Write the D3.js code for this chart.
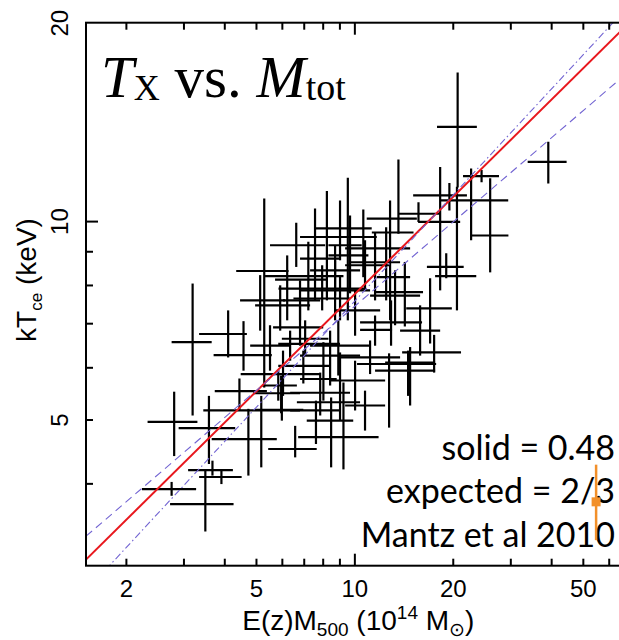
<!DOCTYPE html>
<html><head><meta charset="utf-8">
<script src="https://cdn.jsdelivr.net/npm/d3@7"></script>
<style>body{margin:0;background:#fff} svg{display:block}</style>
</head><body>
<svg id="c" width="619" height="640"></svg>
<script>
// ---- data (10^14 Msun, keV) ----
const mass   = [3.20,2.81,2.76,3.50,3.68,3.92,3.59,4.11,4.58,5.30,4.45,4.74,5.19,5.97,6.00,6.05,
  6.64,7.58,8.24,9.55,9.70,10.65,12.51,12.86,13.64,15.71,18.30,19.53,22.76,26.03,20.6,19.1,20.7,39.2,24.5,
  7.23,7.97,6.23,9.04,5.93,6.82,6.98,8.04,9.04,8.49,9.26,6.59,12.77,11.17,11.57,5.85,7.07,17.05,17.54,
  14.81,14.6,14.27,12.95,8.73,8.43,7.63,8.73,10.05,6.82,5.52,10.78,
  6.36,7.86,10.05,9.04,11.57,15.89,13.32,5.15,8.93,10.78];
const massLo = [2.76,2.33,2.24,2.73,3.10,3.35,2.90,3.35,3.71,4.35,3.74,3.66,3.45,4.90,4.97,4.49,
  5.52,6.82,6.82,8.33,8.33,9.37,11.71,11.31,10.91,13.61,15.67,15.13,18.30,22.9,17.66,16.67,17.9,33.9,21.5,
  5.72,5.86,5.33,6.51,4.97,5.64,5.85,6.82,6.67,7.15,6.73,5.45,10.19,9.04,10.41,5.22,6.00,14.41,14.0,
  11.57,12.42,11.57,10.41,6.82,6.82,6.36,7.32,8.73,6.05,4.80,9.37,
  5.85,6.36,8.43,7.58,9.70,13.80,11.17,4.47,7.32,9.37];
const massHi = [3.66,3.31,3.28,4.27,4.25,4.52,4.32,4.69,5.59,6.29,5.40,5.79,6.82,6.82,6.98,7.86,
  8.14,9.04,11.71,10.53,11.04,14.81,14.81,15.17,15.53,18.30,21.07,22.1,29.56,29.6,23.6,21.6,23.7,44.6,27.7,
  8.24,10.78,9.26,9.70,7.32,8.03,8.43,8.83,10.41,9.92,11.86,7.67,17.79,13.80,13.04,6.67,8.33,19.87,21.2,
  17.66,17.66,16.22,16.11,11.17,10.41,9.04,10.41,11.99,7.86,6.36,12.86,
  9.04,9.70,12.42,11.30,13.80,18.30,15.89,6.14,11.17,12.42];
const temp   = [6.55,4.96,3.92,3.72,4.19,4.09,4.85,6.74,6.26,8.40,5.52,4.67,5.16,5.48,5.17,5.86,
  9.19,8.77,9.46,9.19,8.87,9.09,8.22,9.61,10.09,10.26,9.97,10.94,10.75,9.51,8.25,8.52,13.9,12.3,11.7,
  8.15,7.90,8.25,7.63,7.45,6.90,6.03,5.76,5.31,4.98,4.70,4.51,6.07,6.21,6.84,5.63,6.63,7.37,6.32,
  5.93,6.10,7.80,7.02,7.85,6.25,5.16,8.42,7.32,7.58,6.47,8.57,
  6.51,5.49,5.73,9.75,8.66,6.82,7.71,7.58,6.47,5.25];
const tempLo = [5.07,4.40,3.83,3.38,4.11,3.99,4.28,6.21,5.93,5.59,5.16,4.11,4.23,5.11,4.98,5.43,
  8.52,7.58,7.58,7.07,7.77,8.22,7.58,7.07,9.57,9.97,7.85,10.38,9.35,8.36,7.32,8.19,11.25,11.4,11.45,
  7.32,7.32,7.07,7.07,6.82,6.47,5.67,5.34,4.98,4.23,4.20,4.38,4.86,5.86,6.47,5.34,6.25,6.52,5.89,
  5.25,5.43,6.92,6.47,7.07,5.63,4.59,7.71,6.70,7.07,5.93,7.85,
  6.14,5.07,5.16,8.72,7.58,6.25,6.95,6.82,5.83,4.81];
const tempHi = [8.04,5.51,4.02,4.18,4.33,4.18,5.43,7.32,7.05,10.82,5.77,5.19,5.43,5.83,5.53,6.36,
  9.94,10.45,11.11,11.63,10.20,10.41,9.79,10.75,12.40,10.68,12.08,11.42,12.02,11.61,11.27,8.94,16.8,13.2,11.95,
  9.30,8.57,8.87,8.28,7.99,7.45,6.36,6.55,6.32,5.40,5.69,4.89,6.30,6.59,7.19,5.93,7.07,8.19,6.72,
  6.44,6.36,8.67,7.58,8.72,6.82,5.34,9.19,7.85,8.13,6.95,9.35,
  6.82,5.89,6.14,10.75,9.62,7.45,8.42,8.28,7.07,5.53];

// fit lines: normalisation at M = 10, log-log slope
const lineNames  = ["fit", "upper", "lower"];
const lineNorm   = [7.74, 7.42, 7.55];
const lineSlope  = [0.49, 0.4245, 0.5348];

// Mantz et al 2010 point (orange)
const refMass = [54.9], refTemp = [3.75], refTempLo = [3.28], refTempHi = [4.27];

const xMajorTicks = [2, 5, 10, 20, 50];
const xMinorTicks = [2, 3, 4, 5, 6, 7, 8, 9, 20, 30, 40, 50, 60];
const xDecadeTicks = [10];
const yMajorTicks = [5, 10, 20];
const yMinorTicks = [4, 5, 6, 7, 8, 9];
const yDecadeTicks = [10];
const notes = ["solid = 0.48", "expected = 2/3", "Mantz et al 2010"];

// ---- drawing ----
const svg = d3.select("#c");
const L = 86, R = 630.6, T = 22.7, B = 565.7;
const x = d3.scaleLog().domain([1.51, 70]).range([L, R]);
const y = d3.scaleLog().domain([3, 20]).range([B, T]);

svg.append("defs").append("clipPath").attr("id","clip")
  .append("rect").attr("x",L).attr("y",T).attr("width",R-L).attr("height",B-T);

const plot = svg.append("g").attr("clip-path","url(#clip)");

// crosses
const idx = d3.range(mass.length);
plot.append("g").attr("stroke","#000").attr("stroke-width",2.2)
  .selectAll("g").data(idx).join("g").each(function(i){
    const g = d3.select(this);
    g.append("line").attr("x1",x(massLo[i])).attr("x2",x(massHi[i]))
      .attr("y1",y(temp[i])).attr("y2",y(temp[i]));
    g.append("line").attr("x1",x(mass[i])).attr("x2",x(mass[i]))
      .attr("y1",y(tempLo[i])).attr("y2",y(tempHi[i]));
  });

// lines
const styles = [
  {stroke:"#e8171d", w:2, dash:null},
  {stroke:"#7264d2", w:1.1, dash:"8,5"},
  {stroke:"#7264d2", w:1.1, dash:"7,3,1.5,3"}
];
const line = d3.line().x(d=>x(d[0])).y(d=>y(d[1]));
const xd = x.domain();
lineNames.forEach((n,k)=>{
  const pts = xd.map(m=>[m, lineNorm[k]*Math.pow(m/10, lineSlope[k])]);
  plot.append("path").attr("d", line(pts)).attr("fill","none")
    .attr("stroke", styles[k].stroke).attr("stroke-width", styles[k].w)
    .attr("stroke-dasharray", styles[k].dash);
});

// frame
svg.append("rect").attr("x",L).attr("y",T).attr("width",R-L).attr("height",B-T)
  .attr("fill","none").attr("stroke","#000").attr("stroke-width",2);

function ticks(axisFn, scale, vals, size, transform){
  const g = svg.append("g").attr("transform",transform)
    .call(axisFn(scale).tickValues(vals).tickSize(size).tickFormat(""));
  g.select(".domain").remove();
  g.selectAll("line").attr("stroke","#000").attr("stroke-width",2);
}
ticks(d3.axisBottom, x, xMinorTicks, -7, `translate(0,${B})`);
ticks(d3.axisBottom, x, xDecadeTicks, -12, `translate(0,${B})`);
ticks(d3.axisTop, x, xMinorTicks, -7, `translate(0,${T})`);
ticks(d3.axisTop, x, xDecadeTicks, -12, `translate(0,${T})`);
ticks(d3.axisLeft, y, yMinorTicks, -7, `translate(${L},0)`);
ticks(d3.axisLeft, y, yDecadeTicks, -12, `translate(${L},0)`);

// tick labels
const sans = "'Liberation Sans', Arial, sans-serif";
const xl = svg.append("g").attr("transform",`translate(0,${B})`)
  .call(d3.axisBottom(x).tickValues(xMajorTicks).tickSize(0).tickFormat(d3.format("d")));
xl.select(".domain").remove();
xl.selectAll("text").attr("y",31).attr("dy",0)
  .attr("font-family",sans).attr("font-size",24).attr("fill","#000");

const yl = svg.append("g").attr("transform",`translate(${L},0)`)
  .call(d3.axisLeft(y).tickValues(yMajorTicks).tickSize(0).tickFormat(d3.format("d")));
yl.select(".domain").remove();
yl.selectAll("text").attr("x",0).attr("dy",0).attr("text-anchor","middle")
  .attr("transform","translate(-18,0) rotate(-90)")
  .attr("font-family",sans).attr("font-size",24).attr("fill","#000");

// axis titles
const xt = svg.append("text").attr("x",(L+R)/2).attr("y",630).attr("text-anchor","middle")
  .attr("font-family",sans).attr("font-size",28);
xt.append("tspan").text("E(z)M");
xt.append("tspan").attr("font-size",19).attr("dy",6).text("500");
xt.append("tspan").attr("dy",-6).text(" (10");
xt.append("tspan").attr("font-size",19).attr("dy",-11).text("14");
xt.append("tspan").attr("dy",11).text(" M");
xt.append("tspan").attr("font-size",19).attr("dy",6).text("\u2299");
xt.append("tspan").attr("dy",-6).text(")");

const yt = svg.append("text").attr("transform","translate(36,280) rotate(-90)")
  .attr("text-anchor","middle").attr("font-family",sans).attr("font-size",28);
yt.append("tspan").text("kT");
yt.append("tspan").attr("font-size",17).attr("dy",6).text("ce");
yt.append("tspan").attr("dy",-6).text(" (keV)");

// title
const serif = "'Liberation Serif', 'Times New Roman', serif";
const tt = svg.append("text").attr("x",101).attr("y",96.7).attr("font-family",serif).attr("font-size",59);
tt.append("tspan").attr("font-style","italic").text("T");
tt.append("tspan").attr("font-size",36).attr("dy",3).text("X");
tt.append("tspan").attr("dy",-3).text(" vs. ");
tt.append("tspan").attr("font-style","italic").text("M");
tt.append("tspan").attr("font-size",38).attr("dy",3).text("tot");

// notes
svg.append("g").selectAll("text").data(notes).join("text")
  .attr("x",615).attr("y",(d,i)=>460+i*43.4).attr("text-anchor","end")
  .attr("font-family","Lato, 'Open Sans', sans-serif").attr("font-size",34).attr("fill","#000")
  .text(d=>d);

// reference point
const ref = svg.append("g").attr("fill","#f2902a").attr("stroke","#f2902a");
refMass.forEach((m,i)=>{
  ref.append("line").attr("x1",x(m)).attr("x2",x(m)).attr("y1",y(refTempLo[i])).attr("y2",y(refTempHi[i]))
    .attr("stroke-width",2.5);
  ref.append("rect").attr("x",x(m)-4.5).attr("y",y(refTemp[i])-4.5).attr("width",9).attr("height",9)
    .attr("stroke","none");
});
</script>
</body></html>
